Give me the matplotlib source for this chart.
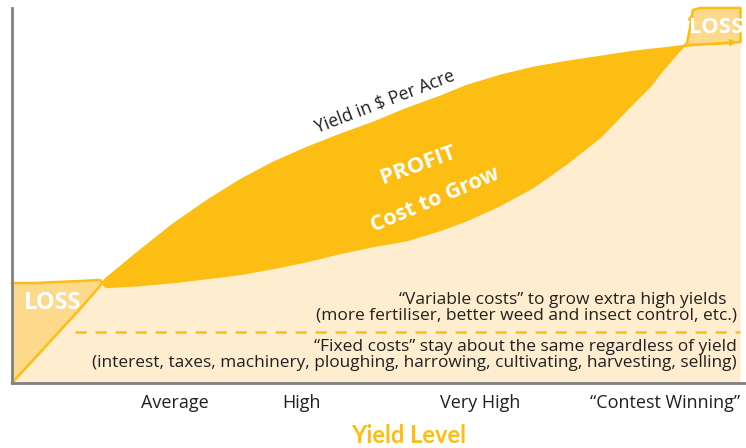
import numpy as np
import matplotlib.pyplot as plt

# yield level (0-100) and dollars per acre (0-100)
yield_level = np.array([0, 3.16, 6.18, 9.34, 12.09, 12.91, 17.58, 22.12, 26.79, 31.32, 35.85,
                        40.52, 45.05, 49.59, 54.26, 58.79, 62.5, 67.03, 71.57, 76.24, 80.77,
                        85.3, 87.64, 89.01, 91.35, 92.72, 93.13, 93.54, 94.51, 97.25, 100])
revenue = np.array([0, 6.67, 13.07, 19.73, 25.87, 27.73, 35.2, 42.2, 48.5, 54.0, 58.67,
                    62.67, 66.13, 69.33, 73.07, 76.27, 79.2, 81.87, 84.0, 85.6, 86.93,
                    88.27, 88.8, 89.07, 89.6, 90.0, 90.05, 90.13, 90.27, 90.53, 90.93])
cost = np.array([26.67, 26.67, 26.93, 27.2, 27.47, 25.6, 26.13, 26.93, 28.0, 29.07, 30.67,
                 32.53, 34.67, 36.53, 38.13, 40.8, 43.47, 47.47, 52.27, 58.67, 65.6,
                 74.67, 79.2, 82.67, 88.0, 90.67, 94.67, 99.47, 100, 100, 100])
fixed_cost = 13.6
dash_start = 8.6

tick_pos = [22.4, 39.7, 64.3, 89.7]
tick_labels = ['Average', 'High', 'Very High', '\u201cContest Winning\u201d']

orange = '#FDBE13'
light_orange = '#FDD98B'
cream = '#FEEECF'
dark = '#231F20'
grey = '#808080'

plt.rcParams['font.family'] = ['Open Sans', 'DejaVu Sans']

fig = plt.figure(figsize=(7.46, 4.48), dpi=100)
ax = fig.add_axes([12 / 746, 65 / 448, 734 / 746, 375 / 448])
ax.set_xlim(0, 100.82)
ax.set_ylim(0, 100)

lower = np.minimum(cost, revenue)
ax.fill_between(yield_level, 0, lower, color=cream, lw=0)
ax.fill_between(yield_level, cost, revenue, where=revenue >= cost, interpolate=True,
                color=orange, lw=0)
ax.fill_between(yield_level, revenue, cost, where=cost > revenue, interpolate=True,
                color=light_orange, lw=0)

ax.plot(yield_level, revenue, color=orange, lw=1.8, clip_on=False, solid_joinstyle='round')
ax.plot(yield_level, cost, color=orange, lw=1.8, clip_on=False, solid_joinstyle='round')
ax.vlines(yield_level[-1], revenue[-1], cost[-1], color=orange, lw=1.8, clip_on=False)

# little arrow heads on the top-right loss box
ax.annotate('', xy=(yield_level[-1], revenue[-1]), xytext=(yield_level[-3], revenue[-3]),
            arrowprops=dict(arrowstyle='-|>', color=orange, lw=1.5, mutation_scale=9))
ax.annotate('', xy=(yield_level[27], cost[27]), xytext=(yield_level[26], cost[26]),
            arrowprops=dict(arrowstyle='-|>', color=orange, lw=1.5, mutation_scale=9),
            annotation_clip=False)

ax.hlines(fixed_cost, dash_start, yield_level[-1], color=orange, lw=1.8,
          linestyles=(0, (4.5, 3.5)))

ax.text(51.2, 75.0, 'Yield in $ Per Acre', rotation=21, ha='center', va='center',
        fontsize=12.7, color=dark)
ax.text(55.8, 58.1, 'PROFIT', rotation=20, ha='center', va='center',
        fontsize=16, color='white', fontweight='bold')
ax.text(58.1, 48.8, 'Cost to Grow', rotation=23, ha='center', va='center',
        fontsize=15.5, color='white', fontweight='bold')
ax.text(5.6, 21.3, 'LOSS', ha='center', va='center', fontsize=17,
        color='white', fontweight='bold')
ax.text(96.8, 94.9, 'LOSS', ha='center', va='center', fontsize=16,
        color='white', fontweight='bold', clip_on=False)

ax.text(98.2, 22.1, '\u201cVariable costs\u201d to grow extra high yields',
        ha='right', va='center', fontsize=12.5, color=dark)
ax.text(99.6, 17.9, '(more fertiliser, better weed and insect control, etc.)',
        ha='right', va='center', fontsize=12.5, color=dark)
ax.text(99.6, 9.6, '\u201cFixed costs\u201d stay about the same regardless of yield',
        ha='right', va='center', fontsize=12.5, color=dark)
ax.text(99.6, 5.4, '(interest, taxes, machinery, ploughing, harrowing, cultivating, harvesting, selling)',
        ha='right', va='center', fontsize=12.4, color=dark)

ax.set_xticks(tick_pos)
ax.set_xticklabels(tick_labels, fontsize=13, color=dark)
ax.set_yticks([])
ax.tick_params(axis='x', length=0, pad=8)
ax.set_xlabel('Yield Level', fontsize=17, fontweight='bold', color=orange,
              family=['Lato', 'DejaVu Sans'])
ax.xaxis.set_label_coords(0.541, -0.141)
ax.xaxis.label.set_va('center')

for side in ['top', 'right']:
    ax.spines[side].set_visible(False)
for side in ['left', 'bottom']:
    ax.spines[side].set_color(grey)
    ax.spines[side].set_linewidth(2)

fig.savefig('out.png', dpi=100)
